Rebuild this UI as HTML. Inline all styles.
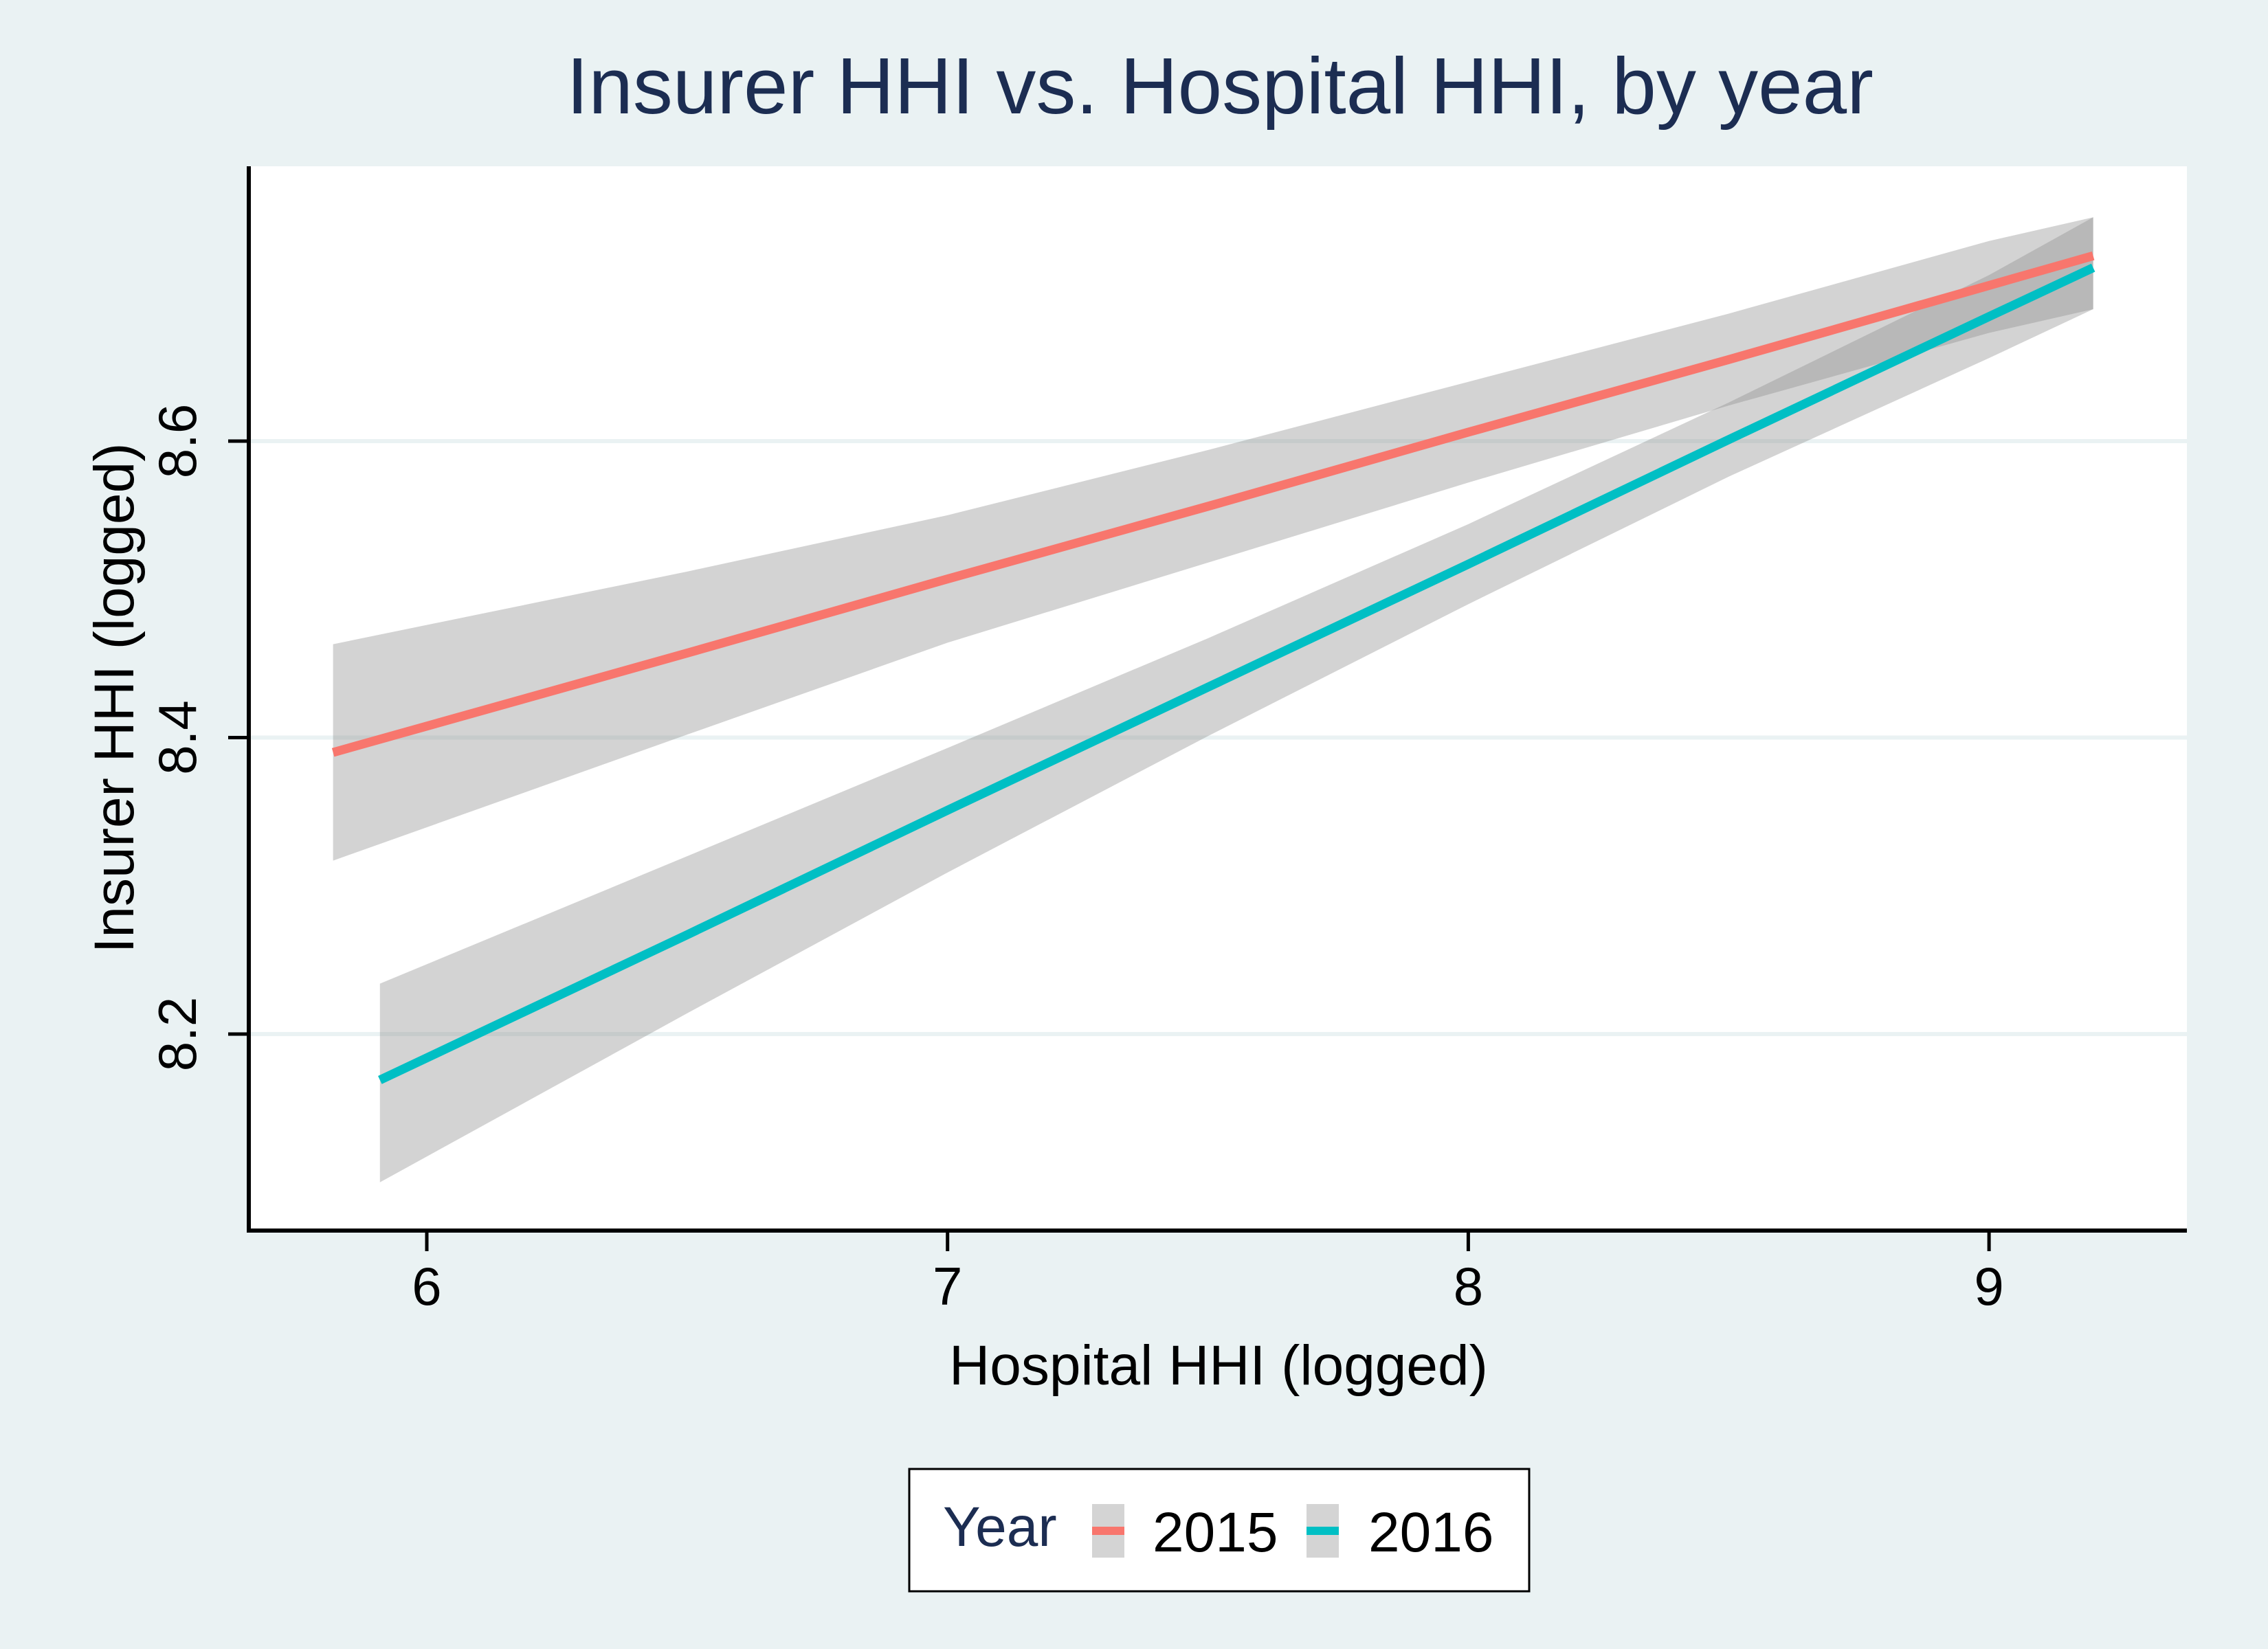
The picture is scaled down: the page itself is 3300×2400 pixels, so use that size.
<!DOCTYPE html>
<html><head><meta charset="utf-8"><style>
html,body{margin:0;padding:0;background:#eaf2f3;}
svg{display:block;font-family:"Liberation Sans",Arial,sans-serif;}
</style></head><body>
<svg id="chart" width="3300" height="2400" viewBox="0 0 3300 2400" xmlns="http://www.w3.org/2000/svg">
<rect x="0" y="0" width="3300" height="2400" fill="#eaf2f3"/>
<text x="1775" y="165" font-size="116" fill="#1c2d52" text-anchor="middle">Insurer HHI vs. Hospital HHI, by year</text>
<rect x="362" y="242" width="2820" height="1549" fill="#ffffff"/>
<g id="grid"></g>
<g id="bands"></g>
<g id="lines"></g>
<g id="axes"></g>
<text x="1773" y="2015" font-size="82" fill="#000" text-anchor="middle">Hospital HHI (logged)</text>
<text transform="translate(194,1016) rotate(-90)" font-size="82" fill="#000" text-anchor="middle">Insurer HHI (logged)</text>
<g>
<rect x="1323" y="2138" width="902" height="178" fill="#fff" stroke="#000" stroke-width="3"/>
<text x="1372" y="2250" font-size="82" fill="#1c2d52">Year</text>
<g>
<rect x="1589" y="2189" width="47" height="78" fill="#d4d4d4"/>
<line x1="1589" y1="2228" x2="1636" y2="2228" stroke="#f8766d" stroke-width="12"/>
<text x="1677" y="2258" font-size="82" fill="#000">2015</text>
</g>
<g>
<rect x="1901" y="2189" width="47" height="78" fill="#d4d4d4"/>
<line x1="1901" y1="2228" x2="1948" y2="2228" stroke="#00bfc4" stroke-width="12"/>
<text x="1991" y="2258" font-size="82" fill="#000">2016</text>
</g>
</g>
</svg>
<script>
const xTicks=[6,7,8,9];
const yTicks=[8.2,8.4,8.6];
const x2015=[5.82,6.5,7,7.5,8,8.5,9,9.2];
const fit2015=[8.39,8.457,8.507,8.556,8.606,8.655,8.705,8.725];
const lo2015=[8.317,8.402,8.464,8.518,8.572,8.624,8.673,8.689];
const hi2015=[8.463,8.512,8.550,8.594,8.640,8.686,8.735,8.751];
const x2016=[5.91,6.5,7,7.5,8,8.5,9,9.2];
const fit2016=[8.169,8.267,8.351,8.434,8.517,8.601,8.684,8.717];
const lo2016=[8.100,8.214,8.309,8.401,8.490,8.576,8.656,8.689];
const hi2016=[8.234,8.320,8.393,8.467,8.544,8.626,8.712,8.751];
const NS='http://www.w3.org/2000/svg';
const L=362,R=3182,T=242,B=1791;
function sx(v){return 621+(v-6)*757.7;}
function sy(v){return 642+(8.6-v)*2157.5;}
function mk(tag,attrs,parent){const e=document.createElementNS(NS,tag);for(const k in attrs)e.setAttribute(k,attrs[k]);parent.appendChild(e);return e;}
const grid=document.getElementById('grid'),bands=document.getElementById('bands'),lines=document.getElementById('lines'),axes=document.getElementById('axes');
yTicks.forEach(t=>{const g=mk('line',{x1:L,x2:R,y1:sy(t),y2:sy(t),stroke:'#eaf2f3','stroke-width':6},grid);

});
function band(xs,lo,hi,name){let d='M'+xs.map((x,i)=>sx(x)+','+sy(hi[i])).join(' L');
for(let i=xs.length-1;i>=0;i--)d+=' L'+sx(xs[i])+','+sy(lo[i]);d+=' Z';
const p=mk('path',{d:d,fill:'rgb(140,140,140)','fill-opacity':0.38},bands);

}
band(x2015,lo2015,hi2015,'ci-band-2015');
band(x2016,lo2016,hi2016,'ci-band-2016');
function line(xs,ys,c,name){const p=mk('polyline',{points:xs.map((x,i)=>sx(x)+','+sy(ys[i])).join(' '),fill:'none',stroke:c,'stroke-width':13},lines);

}
line(x2015,fit2015,'#f8766d','fit-line-2015');
line(x2016,fit2016,'#00bfc4','fit-line-2016');
const ya=mk('line',{x1:L,x2:L,y1:T,y2:B+3,stroke:'#000','stroke-width':6},axes);


const xa=mk('line',{x1:L-3,x2:R,y1:B,y2:B,stroke:'#000','stroke-width':6},axes);


xTicks.forEach(t=>{const tk=mk('line',{x1:sx(t),x2:sx(t),y1:B,y2:B+30,stroke:'#000','stroke-width':5},axes);


const tx=mk('text',{x:sx(t),y:B+108,'font-size':78,'text-anchor':'middle',fill:'#000'},axes);tx.textContent=t;

});
yTicks.forEach(t=>{const tk=mk('line',{x1:L-30,x2:L,y1:sy(t),y2:sy(t),stroke:'#000','stroke-width':5},axes);


const tx=mk('text',{transform:'translate(285,'+sy(t)+') rotate(-90)','font-size':78,'text-anchor':'middle',fill:'#000'},axes);tx.textContent=t.toFixed(1);

});
</script>
</body></html>
